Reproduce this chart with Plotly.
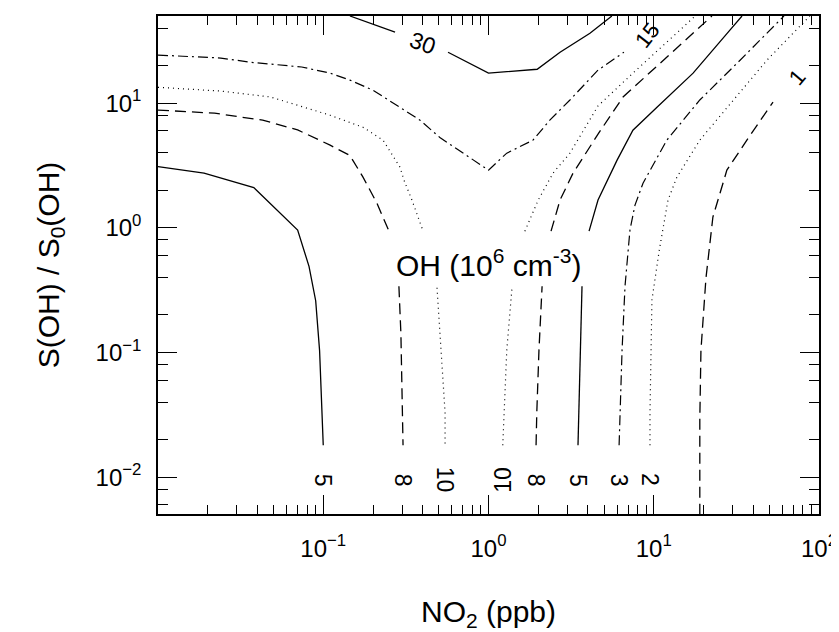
import numpy as np
import plotly.graph_objects as go

# ---- contour lines of OH (1e6 cm^-3): NO2 (ppb) vs S(OH)/S0(OH)
c5L_x = [0.01, 0.019, 0.038, 0.070, 0.082, 0.090, 0.095, 0.098, 0.1]
c5L_y = [3.1, 2.75, 2.1, 0.96, 0.49, 0.26, 0.104, 0.029, 0.018]

c8L_x = [0.01, 0.022, 0.043, 0.070, 0.110, 0.145, 0.174, 0.211, 0.250, None, 0.287, 0.295, 0.304]
c8L_y = [8.8, 8.3, 7.3, 6.1, 4.6, 3.8, 2.55, 1.58, 0.94, None, 0.34, 0.143, 0.018]

c10L_x = [0.01, 0.024, 0.048, 0.110, 0.174, 0.230, 0.291, 0.308, 0.344, 0.402, None, 0.488, 0.516, 0.546, 0.546]
c10L_y = [13.4, 12.5, 11.2, 8.0, 6.4, 5.05, 3.07, 2.41, 1.67, 0.94, None, 0.33, 0.104, 0.033, 0.018]

c15_x = [0.01, 0.024, 0.036, 0.074, 0.110, 0.145, 0.200, 0.279, 0.385, 0.508, 0.70, 1.0,
         1.29, 1.86, 2.35, 3.11, 4.6, 6.6]
c15_y = [24.3, 23.0, 21.3, 19.5, 17.4, 15.3, 12.7, 9.6, 7.3, 5.3, 3.97, 2.9,
         3.97, 5.05, 7.3, 10.6, 18.4, 25.6]

c30_x = [0.145, 0.272, None, 0.569, 1.0, 1.97, 2.71, 4.11, 5.58]
c30_y = [50, 37.1, None, 25.6, 17.4, 18.7, 25.6, 36.4, 50]

c10R_x = [1.22, 1.24, 1.29, 1.39, None, 1.66, 2.0, 2.46, 3.11, 4.6, 7.48, 14.4, 17.8]
c10R_y = [0.018, 0.033, 0.104, 0.34, None, 0.94, 1.67, 2.75, 3.97, 9.5, 17.4, 38.5, 50]

c8R_x = [1.94, 1.96, 2.02, 2.11, None, 2.39, 2.71, 3.25, 4.6, 6.52, 12.0, 18.3, 22.5]
c8R_y = [0.018, 0.033, 0.104, 0.34, None, 0.94, 1.67, 2.75, 5.64, 11.2, 23.4, 38.5, 50]

c5R_x = [3.48, 3.58, 3.68, None, 4.06, 4.6, 6.0, 7.48, 10.5, 17.3, 28.9, 34.2]
c5R_y = [0.018, 0.104, 0.34, None, 0.94, 1.67, 3.49, 6.07, 9.3, 17.4, 38.5, 50]

c3_x = [6.17, 6.43, 6.70, 7.18, 7.7, 8.61, 12.0, 19.0, 33.3, 50.5, 61.4]
c3_y = [0.018, 0.104, 0.34, 0.96, 1.52, 2.28, 5.05, 10.6, 22.1, 38.5, 50]

c2_x = [9.49, 9.49, 9.75, 10.8, 12.2, 13.8, 19.0, 30.2, 48.4, 69.7, 88.0]
c2_y = [0.018, 0.033, 0.263, 0.662, 1.67, 2.55, 5.05, 10.6, 22.1, 36.4, 50]

c1_x = [19.0, 19.0, 19.3, 20.7, 22.8, 27.7, 36.6, 52.7]
c1_y = [0.005, 0.029, 0.104, 0.395, 1.22, 2.9, 5.05, 10.2]

# tick labels
x_tickvals = [0.1, 1, 10, 100]
x_ticktext = ["10<sup>−1</sup>", "10<sup>0</sup>", "10<sup>1</sup>", "10<sup>2</sup>"]
y_tickvals = [0.01, 0.1, 1, 10]
y_ticktext = ["10<sup>−2</sup>", "10<sup>−1</sup>", "10<sup>0</sup>", "10<sup>1</sup>"]

DASH = "11px,6px"
DOT = "1px,4px"
DASHDOT = "10px,4px,2px,4px"

lines = [
    (c5L_x, c5L_y, "solid", 1.3),
    (c8L_x, c8L_y, DASH, 1.3),
    (c10L_x, c10L_y, DOT, 1.2),
    (c15_x, c15_y, DASHDOT, 1.2),
    (c30_x, c30_y, "solid", 1.3),
    (c10R_x, c10R_y, DOT, 1.2),
    (c8R_x, c8R_y, DASH, 1.3),
    (c5R_x, c5R_y, "solid", 1.3),
    (c3_x, c3_y, DASHDOT, 1.2),
    (c2_x, c2_y, DOT, 1.2),
    (c1_x, c1_y, DASH, 1.3),
]

fig = go.Figure()
for xs, ys, dash, w in lines:
    fig.add_trace(go.Scatter(x=xs, y=ys, mode="lines", connectgaps=False,
                             line=dict(color="black", width=w, dash=dash),
                             showlegend=False, hoverinfo="skip"))

FONT = "Liberation Sans, Arial, sans-serif"
ann = []
lab_y = np.log10(0.0095)
bottom_labels = [("5", 0.1, 90), ("8", 0.304, 90), ("10", 0.546, 90), ("10", 1.22, -90),
                 ("8", 1.94, 90), ("5", 3.48, 90), ("3", 6.17, 90), ("2", 9.49, 90)]
for t, xv, ang in bottom_labels:
    ann.append(dict(x=np.log10(xv), y=lab_y, text=t, textangle=ang, showarrow=False,
                    font=dict(size=23, color="black", family=FONT)))
ann.append(dict(x=np.log10(0.40), y=np.log10(30.3), text="30", textangle=20, showarrow=False,
                font=dict(size=23, color="black", family=FONT)))
ann.append(dict(x=np.log10(9.1), y=np.log10(35.0), text="15", textangle=-52, showarrow=False,
                font=dict(size=22, color="black", family=FONT)))
ann.append(dict(x=np.log10(73.6), y=np.log10(16.1), text="1", textangle=-50, showarrow=False,
                font=dict(size=22, color="black", family=FONT)))
ann.append(dict(x=np.log10(1.0), y=np.log10(0.52), text="OH (10<sup>6</sup> cm<sup>-3</sup>)",
                showarrow=False, font=dict(size=30, color="black", family=FONT)))

x_minor = [m * 10.0 ** e for e in range(-2, 2) for m in range(2, 10)]
y_minor = [m * 10.0 ** e for e in range(-3, 2) for m in (2, 4, 6, 8)]

axis_common = dict(type="log", showgrid=False, zeroline=False, showline=True,
                   linecolor="black", linewidth=1.5, mirror="allticks",
                   ticks="inside", ticklen=19, tickwidth=1.4, tickcolor="black",
                   tickmode="array", automargin=False,
                   tickfont=dict(size=24, color="black", family=FONT))

# the page body has an 8 px default margin; size the figure so the plot frame
# lands at x 158..819, y 16..514 of the 839x632 window
OFF = 8
W, H = 839 - OFF, 632 - OFF
fig.update_layout(
    width=W, height=H,
    margin=dict(l=158 - OFF, r=W - (819 - OFF), t=16 - OFF, b=H - (514 - OFF)),
    paper_bgcolor="white", plot_bgcolor="white",
    annotations=ann,
    xaxis=dict(axis_common, range=[-2, 2], tickvals=x_tickvals, ticktext=x_ticktext,
               ticklabelstandoff=12,
               minor=dict(ticks="inside", ticklen=9, tickwidth=1, tickcolor="black",
                          tickmode="array", tickvals=x_minor),
               title=dict(text="NO<sub>2</sub> (ppb)", standoff=40,
                          font=dict(size=30, color="black", family=FONT))),
    yaxis=dict(axis_common, range=[np.log10(0.00506), np.log10(50)], tickvals=y_tickvals,
               ticktext=y_ticktext, ticklabelstandoff=10,
               minor=dict(ticks="inside", ticklen=10, tickwidth=1, tickcolor="black",
                          tickmode="array", tickvals=y_minor),
               title=dict(text="S(OH) / S<sub>0</sub>(OH)", standoff=27,
                          font=dict(size=30, color="black", family=FONT))),
)

fig.write_html("out.html")
